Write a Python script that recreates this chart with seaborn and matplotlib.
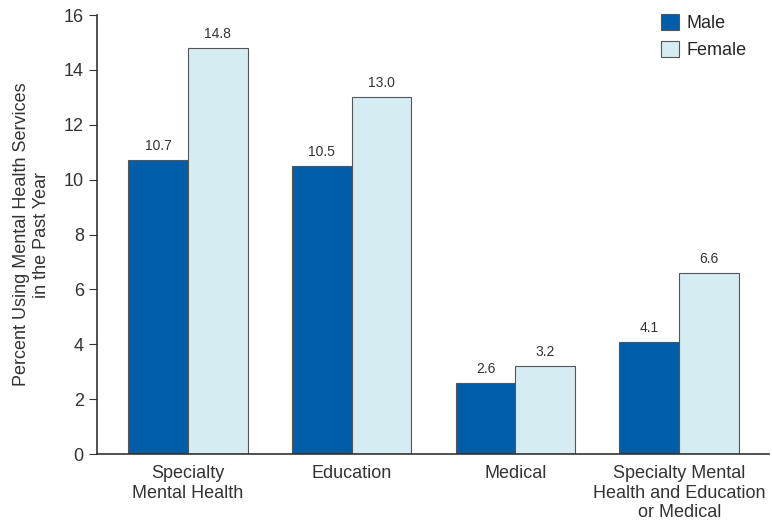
import pandas as pd
import numpy as np
import matplotlib
matplotlib.use("Agg")
import matplotlib.pyplot as plt
import seaborn as sns

categories = ["Specialty\nMental Health", "Education", "Medical",
              "Specialty Mental\nHealth and Education\nor Medical"]
male = [10.7, 10.5, 2.6, 4.1]
female = [14.8, 13.0, 3.2, 6.6]

df = pd.DataFrame({
    "Service": categories * 2,
    "Sex": ["Male"] * 4 + ["Female"] * 4,
    "Percent": male + female,
})

sns.set_style("ticks")
plt.rcParams["font.family"] = ["Liberation Sans", "DejaVu Sans"]

fig = plt.figure(figsize=(7.72, 5.27), dpi=100)
ax = fig.add_axes([0.1256, 0.1385, 0.871, 0.833])

sns.barplot(data=df, x="Service", y="Percent", hue="Sex",
            palette={"Male": "#005DA8", "Female": "#D6ECF3"}, saturation=1,
            width=0.73, edgecolor="#555555", linewidth=0.8, ax=ax)

for c in ax.containers:
    ax.bar_label(c, fmt="%.1f", padding=5, fontsize=10, color="#333333")

ax.set_ylim(0, 16)
ax.set_yticks(np.arange(0, 17, 2))
ax.set_xlim(-0.555, 3.55)
ax.set_xlabel("")
ax.set_ylabel("Percent Using Mental Health Services\nin the Past Year", fontsize=13,
              color="#333333", multialignment="center", labelpad=10)
ax.tick_params(axis="y", labelsize=13, length=6, colors="#333333")
ax.tick_params(axis="x", labelsize=13, length=0, pad=8, colors="#333333")
sns.despine(ax=ax)
for s in ["left", "bottom"]:
    ax.spines[s].set_color("#333333")
    ax.spines[s].set_linewidth(1.2)

leg = ax.legend(loc="upper right", bbox_to_anchor=(0.99, 1.04), frameon=False,
                fontsize=13, handlelength=1.0, handleheight=1.0, handletextpad=0.4)

fig.savefig("out.png", dpi=100)
